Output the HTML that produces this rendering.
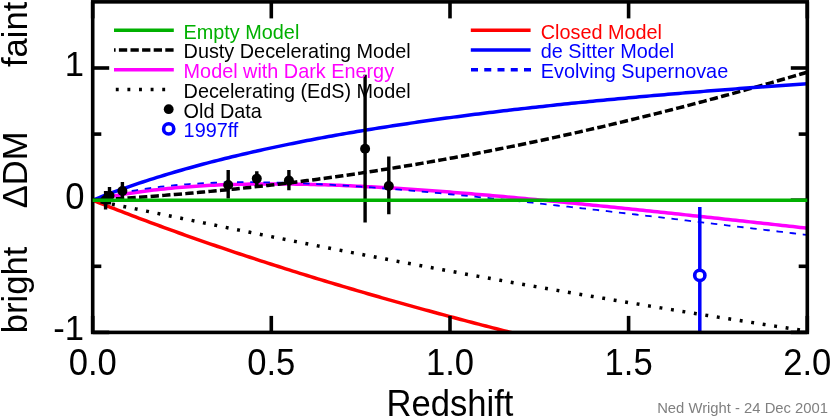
<!DOCTYPE html>
<html><head><meta charset="utf-8"><title>Supernova cosmology</title>
<style>
html,body{margin:0;padding:0;background:#fff;}
body{width:830px;height:417px;overflow:hidden;}
svg{display:block;will-change:transform;}
text{font-family:"Liberation Sans",sans-serif;}
</style></head><body>
<svg width="830" height="417" viewBox="0 0 830 417">
<rect width="830" height="417" fill="#fff"/>
<defs><clipPath id="pc"><rect x="92.7" y="1.85" width="714.5999999999999" height="330.54999999999995"/></clipPath></defs>
<g clip-path="url(#pc)" fill="none" stroke-linejoin="round">
<path d="M92.74 200.21 L96.27 201.63 L99.85 203.06 L103.42 204.47 L106.99 205.88 L110.56 207.29 L114.14 208.69 L117.71 210.08 L121.28 211.46 L124.86 212.84 L128.43 214.21 L132.00 215.57 L135.58 216.93 L139.15 218.28 L142.72 219.62 L146.30 220.96 L149.87 222.29 L153.44 223.62 L157.01 224.94 L160.59 226.25 L164.16 227.56 L167.73 228.86 L171.31 230.16 L174.88 231.45 L178.45 232.73 L182.02 234.01 L185.60 235.28 L189.17 236.55 L192.74 237.81 L196.32 239.07 L199.89 240.32 L203.46 241.57 L207.04 242.81 L210.61 244.04 L214.18 245.27 L217.75 246.50 L221.33 247.71 L224.90 248.93 L228.47 250.14 L232.05 251.34 L235.62 252.54 L239.19 253.73 L242.77 254.92 L246.34 256.10 L249.91 257.28 L253.49 258.46 L257.06 259.63 L260.63 260.79 L264.20 261.95 L267.78 263.11 L271.35 264.26 L274.92 265.40 L278.50 266.54 L282.07 267.68 L285.64 268.81 L289.21 269.94 L292.79 271.07 L296.36 272.18 L299.93 273.30 L303.51 274.41 L307.08 275.52 L310.65 276.62 L314.23 277.72 L317.80 278.81 L321.37 279.90 L324.94 280.98 L328.52 282.07 L332.09 283.14 L335.66 284.22 L339.24 285.29 L342.81 286.35 L346.38 287.41 L349.96 288.47 L353.53 289.52 L357.10 290.57 L360.67 291.62 L364.25 292.66 L367.82 293.70 L371.39 294.73 L374.97 295.76 L378.54 296.79 L382.11 297.81 L385.69 298.83 L389.26 299.85 L392.83 300.86 L396.40 301.87 L399.98 302.88 L403.55 303.88 L407.12 304.88 L410.70 305.87 L414.27 306.86 L417.84 307.85 L421.42 308.84 L424.99 309.82 L428.56 310.80 L432.13 311.77 L435.71 312.74 L439.28 313.71 L442.85 314.68 L446.43 315.64 L450.00 316.60 L453.57 317.55 L457.15 318.50 L460.72 319.45 L464.29 320.40 L467.86 321.34 L471.44 322.28 L475.01 323.22 L478.58 324.15 L482.16 325.08 L485.73 326.01 L489.30 326.93 L492.88 327.86 L496.45 328.77 L500.02 329.69 L503.59 330.60 L507.17 331.51 L510.74 332.42 L514.31 333.32 L517.89 334.22 L521.46 335.12 L525.03 336.02 L528.61 336.91 L532.18 337.80 L535.75 338.69 L539.32 339.57 L542.90 340.46 L546.47 341.34 L550.04 342.21 L553.62 343.09 L557.19 343.96 L560.76 344.83 L564.34 345.69 L567.91 346.55 L571.48 347.42 L575.05 348.27 L578.63 349.13 L582.20 349.98 L585.77 350.83 L589.35 351.68 L592.92 352.53 L596.49 353.37 L600.07 354.21 L603.64 355.05 L607.21 355.88 L610.78 356.72 L614.36 357.55 L617.93 358.38 L621.50 359.20 L625.08 360.03 L628.65 360.85 L632.22 361.67 L635.80 362.48 L639.37 363.30 L642.94 364.11 L646.51 364.92 L650.09 365.73 L653.66 366.53 L657.23 367.34 L660.81 368.14 L664.38 368.94 L667.95 369.73 L671.53 370.53 L675.10 371.32 L678.67 372.11 L682.25 372.89 L685.82 373.68 L689.39 374.46 L692.96 375.24 L696.54 376.02 L700.11 376.80 L703.68 377.58 L707.26 378.35 L710.83 379.12 L714.40 379.89 L717.97 380.65 L721.55 381.42 L725.12 382.18 L728.69 382.94 L732.27 383.70 L735.84 384.46 L739.41 385.21 L742.99 385.96 L746.56 386.71 L750.13 387.46 L753.71 388.21 L757.28 388.95 L760.85 389.70 L764.42 390.44 L768.00 391.18 L771.57 391.91 L775.14 392.65 L778.72 393.38 L782.29 394.11 L785.86 394.84 L789.43 395.57 L793.01 396.30 L796.58 397.02 L800.15 397.74 L803.73 398.46 L807.30 399.18" stroke="#ff0000" stroke-width="3.5"/>
<path d="M92.74 200.19 L96.27 199.42 L99.85 198.67 L103.42 197.95 L106.99 197.24 L110.56 196.56 L114.14 195.91 L117.71 195.27 L121.28 194.66 L124.86 194.07 L128.43 193.50 L132.00 192.96 L135.58 192.43 L139.15 191.92 L142.72 191.43 L146.30 190.96 L149.87 190.51 L153.44 190.08 L157.01 189.67 L160.59 189.27 L164.16 188.89 L167.73 188.53 L171.31 188.18 L174.88 187.85 L178.45 187.53 L182.02 187.23 L185.60 186.95 L189.17 186.68 L192.74 186.42 L196.32 186.18 L199.89 185.96 L203.46 185.74 L207.04 185.54 L210.61 185.35 L214.18 185.18 L217.75 185.02 L221.33 184.87 L224.90 184.73 L228.47 184.60 L232.05 184.49 L235.62 184.38 L239.19 184.29 L242.77 184.21 L246.34 184.14 L249.91 184.08 L253.49 184.03 L257.06 183.98 L260.63 183.95 L264.20 183.93 L267.78 183.92 L271.35 183.92 L274.92 183.92 L278.50 183.94 L282.07 183.96 L285.64 183.99 L289.21 184.03 L292.79 184.08 L296.36 184.14 L299.93 184.20 L303.51 184.27 L307.08 184.35 L310.65 184.43 L314.23 184.53 L317.80 184.63 L321.37 184.73 L324.94 184.85 L328.52 184.97 L332.09 185.09 L335.66 185.23 L339.24 185.36 L342.81 185.51 L346.38 185.66 L349.96 185.82 L353.53 185.98 L357.10 186.15 L360.67 186.32 L364.25 186.50 L367.82 186.68 L371.39 186.87 L374.97 187.06 L378.54 187.26 L382.11 187.47 L385.69 187.67 L389.26 187.89 L392.83 188.10 L396.40 188.32 L399.98 188.55 L403.55 188.78 L407.12 189.01 L410.70 189.25 L414.27 189.49 L417.84 189.74 L421.42 189.99 L424.99 190.24 L428.56 190.50 L432.13 190.76 L435.71 191.02 L439.28 191.29 L442.85 191.56 L446.43 191.84 L450.00 192.11 L453.57 192.39 L457.15 192.68 L460.72 192.96 L464.29 193.25 L467.86 193.54 L471.44 193.84 L475.01 194.14 L478.58 194.44 L482.16 194.74 L485.73 195.05 L489.30 195.35 L492.88 195.66 L496.45 195.98 L500.02 196.29 L503.59 196.61 L507.17 196.93 L510.74 197.25 L514.31 197.57 L517.89 197.90 L521.46 198.23 L525.03 198.56 L528.61 198.89 L532.18 199.22 L535.75 199.56 L539.32 199.90 L542.90 200.24 L546.47 200.58 L550.04 200.92 L553.62 201.27 L557.19 201.61 L560.76 201.96 L564.34 202.31 L567.91 202.66 L571.48 203.01 L575.05 203.37 L578.63 203.72 L582.20 204.08 L585.77 204.43 L589.35 204.79 L592.92 205.15 L596.49 205.52 L600.07 205.88 L603.64 206.24 L607.21 206.61 L610.78 206.97 L614.36 207.34 L617.93 207.71 L621.50 208.08 L625.08 208.45 L628.65 208.82 L632.22 209.19 L635.80 209.57 L639.37 209.94 L642.94 210.32 L646.51 210.69 L650.09 211.07 L653.66 211.45 L657.23 211.82 L660.81 212.20 L664.38 212.58 L667.95 212.96 L671.53 213.35 L675.10 213.73 L678.67 214.11 L682.25 214.49 L685.82 214.88 L689.39 215.26 L692.96 215.65 L696.54 216.03 L700.11 216.42 L703.68 216.81 L707.26 217.19 L710.83 217.58 L714.40 217.97 L717.97 218.36 L721.55 218.75 L725.12 219.14 L728.69 219.53 L732.27 219.92 L735.84 220.31 L739.41 220.70 L742.99 221.09 L746.56 221.48 L750.13 221.88 L753.71 222.27 L757.28 222.66 L760.85 223.06 L764.42 223.45 L768.00 223.84 L771.57 224.24 L775.14 224.63 L778.72 225.03 L782.29 225.42 L785.86 225.82 L789.43 226.21 L793.01 226.61 L796.58 227.00 L800.15 227.40 L803.73 227.79 L807.30 228.19" stroke="#ff00ff" stroke-width="3.5"/>
<path d="M92.74 200.19 L96.27 199.16 L99.85 198.16 L103.42 197.20 L106.99 196.29 L110.56 195.41 L114.14 194.58 L117.71 193.78 L121.28 193.02 L124.86 192.29 L128.43 191.60 L132.00 190.94 L135.58 190.31 L139.15 189.71 L142.72 189.14 L146.30 188.60 L149.87 188.09 L153.44 187.61 L157.01 187.15 L160.59 186.71 L164.16 186.31 L167.73 185.92 L171.31 185.56 L174.88 185.22 L178.45 184.90 L182.02 184.60 L185.60 184.32 L189.17 184.06 L192.74 183.82 L196.32 183.60 L199.89 183.40 L203.46 183.21 L207.04 183.05 L210.61 182.89 L214.18 182.76 L217.75 182.64 L221.33 182.53 L224.90 182.44 L228.47 182.36 L232.05 182.30 L235.62 182.25 L239.19 182.22 L242.77 182.19 L246.34 182.18 L249.91 182.18 L253.49 182.19 L257.06 182.22 L260.63 182.25 L264.20 182.29 L267.78 182.35 L271.35 182.42 L274.92 182.49 L278.50 182.58 L282.07 182.67 L285.64 182.77 L289.21 182.89 L292.79 183.01 L296.36 183.14 L299.93 183.27 L303.51 183.42 L307.08 183.57 L310.65 183.73 L314.23 183.90 L317.80 184.08 L321.37 184.26 L324.94 184.45 L328.52 184.64 L332.09 184.84 L335.66 185.05 L339.24 185.27 L342.81 185.49 L346.38 185.71 L349.96 185.94 L353.53 186.18 L357.10 186.42 L360.67 186.67 L364.25 186.92 L367.82 187.18 L371.39 187.44 L374.97 187.71 L378.54 187.98 L382.11 188.26 L385.69 188.54 L389.26 188.83 L392.83 189.11 L396.40 189.41 L399.98 189.70 L403.55 190.01 L407.12 190.31 L410.70 190.62 L414.27 190.93 L417.84 191.25 L421.42 191.56 L424.99 191.89 L428.56 192.21 L432.13 192.54 L435.71 192.87 L439.28 193.21 L442.85 193.54 L446.43 193.88 L450.00 194.23 L453.57 194.57 L457.15 194.92 L460.72 195.27 L464.29 195.62 L467.86 195.98 L471.44 196.34 L475.01 196.70 L478.58 197.06 L482.16 197.42 L485.73 197.79 L489.30 198.16 L492.88 198.53 L496.45 198.90 L500.02 199.28 L503.59 199.65 L507.17 200.03 L510.74 200.41 L514.31 200.79 L517.89 201.18 L521.46 201.56 L525.03 201.95 L528.61 202.34 L532.18 202.73 L535.75 203.12 L539.32 203.51 L542.90 203.90 L546.47 204.30 L550.04 204.69 L553.62 205.09 L557.19 205.49 L560.76 205.89 L564.34 206.29 L567.91 206.69 L571.48 207.10 L575.05 207.50 L578.63 207.91 L582.20 208.31 L585.77 208.72 L589.35 209.13 L592.92 209.54 L596.49 209.95 L600.07 210.36 L603.64 210.77 L607.21 211.18 L610.78 211.60 L614.36 212.01 L617.93 212.43 L621.50 212.84 L625.08 213.26 L628.65 213.68 L632.22 214.09 L635.80 214.51 L639.37 214.93 L642.94 215.35 L646.51 215.77 L650.09 216.19 L653.66 216.61 L657.23 217.03 L660.81 217.45 L664.38 217.87 L667.95 218.30 L671.53 218.72 L675.10 219.14 L678.67 219.57 L682.25 219.99 L685.82 220.42 L689.39 220.84 L692.96 221.27 L696.54 221.69 L700.11 222.12 L703.68 222.54 L707.26 222.97 L710.83 223.39 L714.40 223.82 L717.97 224.25 L721.55 224.68 L725.12 225.10 L728.69 225.53 L732.27 225.96 L735.84 226.38 L739.41 226.81 L742.99 227.24 L746.56 227.67 L750.13 228.10 L753.71 228.52 L757.28 228.95 L760.85 229.38 L764.42 229.81 L768.00 230.24 L771.57 230.67 L775.14 231.09 L778.72 231.52 L782.29 231.95 L785.86 232.38 L789.43 232.81 L793.01 233.24 L796.58 233.66 L800.15 234.09 L803.73 234.52 L807.30 234.95" stroke="#0000ff" stroke-width="1.8" stroke-dasharray="6.5 6.72" stroke-dashoffset="-0.4"/>
<path d="M92.74 200.21 L96.27 200.92 L99.85 201.64 L103.42 202.36 L106.99 203.08 L110.56 203.81 L114.14 204.53 L117.71 205.26 L121.28 205.99 L124.86 206.72 L128.43 207.45 L132.00 208.18 L135.58 208.91 L139.15 209.64 L142.72 210.37 L146.30 211.11 L149.87 211.84 L153.44 212.57 L157.01 213.31 L160.59 214.04 L164.16 214.77 L167.73 215.51 L171.31 216.24 L174.88 216.98 L178.45 217.71 L182.02 218.44 L185.60 219.18 L189.17 219.91 L192.74 220.64 L196.32 221.38 L199.89 222.11 L203.46 222.84 L207.04 223.57 L210.61 224.30 L214.18 225.03 L217.75 225.76 L221.33 226.49 L224.90 227.22 L228.47 227.95 L232.05 228.68 L235.62 229.41 L239.19 230.13 L242.77 230.86 L246.34 231.58 L249.91 232.31 L253.49 233.03 L257.06 233.75 L260.63 234.47 L264.20 235.19 L267.78 235.91 L271.35 236.63 L274.92 237.35 L278.50 238.07 L282.07 238.78 L285.64 239.50 L289.21 240.21 L292.79 240.92 L296.36 241.63 L299.93 242.34 L303.51 243.05 L307.08 243.76 L310.65 244.47 L314.23 245.18 L317.80 245.88 L321.37 246.59 L324.94 247.29 L328.52 247.99 L332.09 248.69 L335.66 249.39 L339.24 250.09 L342.81 250.79 L346.38 251.48 L349.96 252.18 L353.53 252.87 L357.10 253.56 L360.67 254.26 L364.25 254.95 L367.82 255.64 L371.39 256.32 L374.97 257.01 L378.54 257.70 L382.11 258.38 L385.69 259.06 L389.26 259.74 L392.83 260.42 L396.40 261.10 L399.98 261.78 L403.55 262.46 L407.12 263.13 L410.70 263.81 L414.27 264.48 L417.84 265.15 L421.42 265.82 L424.99 266.49 L428.56 267.16 L432.13 267.83 L435.71 268.49 L439.28 269.16 L442.85 269.82 L446.43 270.48 L450.00 271.14 L453.57 271.80 L457.15 272.46 L460.72 273.11 L464.29 273.77 L467.86 274.42 L471.44 275.07 L475.01 275.73 L478.58 276.38 L482.16 277.03 L485.73 277.67 L489.30 278.32 L492.88 278.96 L496.45 279.61 L500.02 280.25 L503.59 280.89 L507.17 281.53 L510.74 282.17 L514.31 282.81 L517.89 283.44 L521.46 284.08 L525.03 284.71 L528.61 285.35 L532.18 285.98 L535.75 286.61 L539.32 287.24 L542.90 287.86 L546.47 288.49 L550.04 289.11 L553.62 289.74 L557.19 290.36 L560.76 290.98 L564.34 291.60 L567.91 292.22 L571.48 292.84 L575.05 293.45 L578.63 294.07 L582.20 294.68 L585.77 295.30 L589.35 295.91 L592.92 296.52 L596.49 297.13 L600.07 297.74 L603.64 298.34 L607.21 298.95 L610.78 299.55 L614.36 300.15 L617.93 300.76 L621.50 301.36 L625.08 301.96 L628.65 302.56 L632.22 303.15 L635.80 303.75 L639.37 304.34 L642.94 304.94 L646.51 305.53 L650.09 306.12 L653.66 306.71 L657.23 307.30 L660.81 307.89 L664.38 308.47 L667.95 309.06 L671.53 309.64 L675.10 310.23 L678.67 310.81 L682.25 311.39 L685.82 311.97 L689.39 312.55 L692.96 313.13 L696.54 313.70 L700.11 314.28 L703.68 314.85 L707.26 315.43 L710.83 316.00 L714.40 316.57 L717.97 317.14 L721.55 317.71 L725.12 318.27 L728.69 318.84 L732.27 319.41 L735.84 319.97 L739.41 320.53 L742.99 321.10 L746.56 321.66 L750.13 322.22 L753.71 322.78 L757.28 323.33 L760.85 323.89 L764.42 324.45 L768.00 325.00 L771.57 325.55 L775.14 326.11 L778.72 326.66 L782.29 327.21 L785.86 327.76 L789.43 328.30 L793.01 328.85 L796.58 329.40 L800.15 329.94 L803.73 330.49 L807.30 331.03" stroke="#000" stroke-width="3.5" stroke-dasharray="2.9 8.71" stroke-dashoffset="3.6"/>
<path d="M92.74 200.20 L96.27 199.99 L99.85 199.78 L103.42 199.56 L106.99 199.35 L110.56 199.12 L114.14 198.90 L117.71 198.67 L121.28 198.44 L124.86 198.20 L128.43 197.97 L132.00 197.72 L135.58 197.48 L139.15 197.23 L142.72 196.97 L146.30 196.72 L149.87 196.46 L153.44 196.19 L157.01 195.92 L160.59 195.65 L164.16 195.37 L167.73 195.09 L171.31 194.80 L174.88 194.51 L178.45 194.22 L182.02 193.92 L185.60 193.62 L189.17 193.31 L192.74 193.00 L196.32 192.68 L199.89 192.36 L203.46 192.03 L207.04 191.70 L210.61 191.37 L214.18 191.03 L217.75 190.69 L221.33 190.34 L224.90 189.99 L228.47 189.63 L232.05 189.27 L235.62 188.90 L239.19 188.53 L242.77 188.16 L246.34 187.78 L249.91 187.39 L253.49 187.00 L257.06 186.61 L260.63 186.21 L264.20 185.81 L267.78 185.40 L271.35 184.99 L274.92 184.57 L278.50 184.15 L282.07 183.72 L285.64 183.29 L289.21 182.85 L292.79 182.41 L296.36 181.96 L299.93 181.51 L303.51 181.06 L307.08 180.60 L310.65 180.13 L314.23 179.66 L317.80 179.19 L321.37 178.71 L324.94 178.23 L328.52 177.74 L332.09 177.24 L335.66 176.75 L339.24 176.24 L342.81 175.74 L346.38 175.22 L349.96 174.71 L353.53 174.18 L357.10 173.66 L360.67 173.13 L364.25 172.59 L367.82 172.05 L371.39 171.51 L374.97 170.96 L378.54 170.40 L382.11 169.84 L385.69 169.28 L389.26 168.71 L392.83 168.14 L396.40 167.56 L399.98 166.98 L403.55 166.39 L407.12 165.80 L410.70 165.20 L414.27 164.60 L417.84 164.00 L421.42 163.38 L424.99 162.77 L428.56 162.15 L432.13 161.53 L435.71 160.90 L439.28 160.26 L442.85 159.63 L446.43 158.98 L450.00 158.34 L453.57 157.69 L457.15 157.03 L460.72 156.37 L464.29 155.71 L467.86 155.04 L471.44 154.36 L475.01 153.68 L478.58 153.00 L482.16 152.31 L485.73 151.62 L489.30 150.93 L492.88 150.22 L496.45 149.52 L500.02 148.81 L503.59 148.10 L507.17 147.38 L510.74 146.65 L514.31 145.93 L517.89 145.20 L521.46 144.46 L525.03 143.72 L528.61 142.97 L532.18 142.22 L535.75 141.47 L539.32 140.71 L542.90 139.95 L546.47 139.18 L550.04 138.41 L553.62 137.64 L557.19 136.86 L560.76 136.08 L564.34 135.29 L567.91 134.50 L571.48 133.70 L575.05 132.90 L578.63 132.09 L582.20 131.28 L585.77 130.47 L589.35 129.65 L592.92 128.83 L596.49 128.01 L600.07 127.18 L603.64 126.34 L607.21 125.50 L610.78 124.66 L614.36 123.81 L617.93 122.96 L621.50 122.11 L625.08 121.25 L628.65 120.38 L632.22 119.52 L635.80 118.65 L639.37 117.77 L642.94 116.89 L646.51 116.01 L650.09 115.12 L653.66 114.23 L657.23 113.33 L660.81 112.43 L664.38 111.53 L667.95 110.62 L671.53 109.71 L675.10 108.79 L678.67 107.87 L682.25 106.95 L685.82 106.02 L689.39 105.09 L692.96 104.15 L696.54 103.21 L700.11 102.27 L703.68 101.32 L707.26 100.37 L710.83 99.41 L714.40 98.45 L717.97 97.49 L721.55 96.52 L725.12 95.55 L728.69 94.57 L732.27 93.59 L735.84 92.61 L739.41 91.63 L742.99 90.63 L746.56 89.64 L750.13 88.64 L753.71 87.64 L757.28 86.63 L760.85 85.62 L764.42 84.61 L768.00 83.59 L771.57 82.57 L775.14 81.55 L778.72 80.52 L782.29 79.49 L785.86 78.45 L789.43 77.41 L793.01 76.37 L796.58 75.32 L800.15 74.27 L803.73 73.21 L807.30 72.16" stroke="#000" stroke-width="3.5" stroke-dasharray="8.3 3.3"/>
<path d="M92.74 200.19 L96.27 198.78 L99.85 197.37 L103.42 195.99 L106.99 194.63 L110.56 193.28 L114.14 191.96 L117.71 190.65 L121.28 189.37 L124.86 188.10 L128.43 186.85 L132.00 185.61 L135.58 184.39 L139.15 183.19 L142.72 182.01 L146.30 180.84 L149.87 179.69 L153.44 178.55 L157.01 177.42 L160.59 176.32 L164.16 175.22 L167.73 174.14 L171.31 173.07 L174.88 172.02 L178.45 170.98 L182.02 169.95 L185.60 168.94 L189.17 167.94 L192.74 166.95 L196.32 165.97 L199.89 165.00 L203.46 164.05 L207.04 163.11 L210.61 162.18 L214.18 161.25 L217.75 160.34 L221.33 159.44 L224.90 158.56 L228.47 157.68 L232.05 156.81 L235.62 155.95 L239.19 155.10 L242.77 154.26 L246.34 153.43 L249.91 152.61 L253.49 151.79 L257.06 150.99 L260.63 150.20 L264.20 149.41 L267.78 148.63 L271.35 147.86 L274.92 147.10 L278.50 146.35 L282.07 145.60 L285.64 144.86 L289.21 144.13 L292.79 143.41 L296.36 142.70 L299.93 141.99 L303.51 141.29 L307.08 140.59 L310.65 139.91 L314.23 139.23 L317.80 138.55 L321.37 137.89 L324.94 137.23 L328.52 136.57 L332.09 135.93 L335.66 135.29 L339.24 134.65 L342.81 134.02 L346.38 133.40 L349.96 132.78 L353.53 132.17 L357.10 131.57 L360.67 130.97 L364.25 130.38 L367.82 129.79 L371.39 129.21 L374.97 128.63 L378.54 128.06 L382.11 127.49 L385.69 126.93 L389.26 126.37 L392.83 125.82 L396.40 125.27 L399.98 124.73 L403.55 124.19 L407.12 123.66 L410.70 123.13 L414.27 122.61 L417.84 122.09 L421.42 121.58 L424.99 121.07 L428.56 120.56 L432.13 120.06 L435.71 119.56 L439.28 119.07 L442.85 118.58 L446.43 118.10 L450.00 117.62 L453.57 117.14 L457.15 116.67 L460.72 116.20 L464.29 115.73 L467.86 115.27 L471.44 114.81 L475.01 114.36 L478.58 113.91 L482.16 113.47 L485.73 113.02 L489.30 112.58 L492.88 112.15 L496.45 111.72 L500.02 111.29 L503.59 110.86 L507.17 110.44 L510.74 110.02 L514.31 109.60 L517.89 109.19 L521.46 108.78 L525.03 108.38 L528.61 107.97 L532.18 107.57 L535.75 107.18 L539.32 106.78 L542.90 106.39 L546.47 106.00 L550.04 105.62 L553.62 105.23 L557.19 104.85 L560.76 104.48 L564.34 104.10 L567.91 103.73 L571.48 103.36 L575.05 103.00 L578.63 102.63 L582.20 102.27 L585.77 101.92 L589.35 101.56 L592.92 101.21 L596.49 100.86 L600.07 100.51 L603.64 100.16 L607.21 99.82 L610.78 99.48 L614.36 99.14 L617.93 98.80 L621.50 98.47 L625.08 98.14 L628.65 97.81 L632.22 97.48 L635.80 97.16 L639.37 96.84 L642.94 96.52 L646.51 96.20 L650.09 95.88 L653.66 95.57 L657.23 95.26 L660.81 94.95 L664.38 94.64 L667.95 94.33 L671.53 94.03 L675.10 93.73 L678.67 93.43 L682.25 93.13 L685.82 92.83 L689.39 92.54 L692.96 92.25 L696.54 91.96 L700.11 91.67 L703.68 91.38 L707.26 91.10 L710.83 90.82 L714.40 90.53 L717.97 90.25 L721.55 89.98 L725.12 89.70 L728.69 89.43 L732.27 89.16 L735.84 88.88 L739.41 88.62 L742.99 88.35 L746.56 88.08 L750.13 87.82 L753.71 87.56 L757.28 87.30 L760.85 87.04 L764.42 86.78 L768.00 86.52 L771.57 86.27 L775.14 86.01 L778.72 85.76 L782.29 85.51 L785.86 85.26 L789.43 85.02 L793.01 84.77 L796.58 84.53 L800.15 84.28 L803.73 84.04 L807.30 83.80" stroke="#0000ff" stroke-width="3.5"/>
<line x1="105.6" y1="191.0" x2="105.6" y2="209.4" stroke="#000" stroke-width="3.4"/><circle cx="105.6" cy="200.0" r="5" fill="#000"/>
<line x1="109.5" y1="187.1" x2="109.5" y2="204.5" stroke="#000" stroke-width="3.4"/><circle cx="109.5" cy="195.8" r="5" fill="#000"/>
<line x1="122.4" y1="182.0" x2="122.4" y2="200.0" stroke="#000" stroke-width="3.4"/><circle cx="122.4" cy="191.0" r="5" fill="#000"/>
<line x1="228.2" y1="169.9" x2="228.2" y2="198.5" stroke="#000" stroke-width="3.4"/><circle cx="228.2" cy="185.0" r="5" fill="#000"/>
<line x1="256.8" y1="171.2" x2="256.8" y2="185.8" stroke="#000" stroke-width="3.4"/><circle cx="256.8" cy="178.6" r="5" fill="#000"/>
<line x1="288.9" y1="169.9" x2="288.9" y2="190.3" stroke="#000" stroke-width="3.4"/><circle cx="288.9" cy="180.5" r="5" fill="#000"/>
<line x1="365.1" y1="74.8" x2="365.1" y2="222.6" stroke="#000" stroke-width="3.4"/><circle cx="365.1" cy="148.8" r="5" fill="#000"/>
<line x1="388.8" y1="156.5" x2="388.8" y2="214.2" stroke="#000" stroke-width="3.4"/><circle cx="388.8" cy="186.0" r="5" fill="#000"/>

<line x1="699.8" y1="206.9" x2="699.8" y2="332.4" stroke="#0000ff" stroke-width="3.5"/>
<circle cx="699.8" cy="275.4" r="5.1" fill="#fff" stroke="#0000ff" stroke-width="3.6"/>
</g>
<g stroke="#000" stroke-width="3.6" fill="none">
<rect x="92.7" y="1.85" width="714.5999999999999" height="330.54999999999995"/>
<line x1="271.3" y1="332.4" x2="271.3" y2="315.9"/><line x1="271.3" y1="1.9" x2="271.3" y2="18.4"/><line x1="450.0" y1="332.4" x2="450.0" y2="315.9"/><line x1="450.0" y1="1.9" x2="450.0" y2="18.4"/><line x1="628.6" y1="332.4" x2="628.6" y2="315.9"/><line x1="628.6" y1="1.9" x2="628.6" y2="18.4"/><line x1="92.7" y1="332.4" x2="92.7" y2="315.9"/><line x1="92.7" y1="1.9" x2="92.7" y2="18.4"/><line x1="807.3" y1="332.4" x2="807.3" y2="315.9"/><line x1="807.3" y1="1.9" x2="807.3" y2="18.4"/><line x1="92.7" y1="332.4" x2="109.2" y2="332.4"/><line x1="807.3" y1="332.4" x2="790.8" y2="332.4"/><line x1="92.7" y1="266.3" x2="101.3" y2="266.3"/><line x1="807.3" y1="266.3" x2="798.7" y2="266.3"/><line x1="92.7" y1="200.2" x2="109.2" y2="200.2"/><line x1="807.3" y1="200.2" x2="790.8" y2="200.2"/><line x1="92.7" y1="134.1" x2="101.3" y2="134.1"/><line x1="807.3" y1="134.1" x2="798.7" y2="134.1"/><line x1="92.7" y1="68.0" x2="109.2" y2="68.0"/><line x1="807.3" y1="68.0" x2="790.8" y2="68.0"/>
</g>
<line x1="92.7" y1="200.2" x2="807.3" y2="200.2" stroke="#00b000" stroke-width="3.4"/>
<!-- legend left -->
<g stroke-width="3.5" fill="none">
<line x1="114" y1="30.2" x2="173.8" y2="30.2" stroke="#00b000"/>
<line x1="114" y1="50.0" x2="173.8" y2="50.0" stroke="#000" stroke-dasharray="8.3 3.3" stroke-dashoffset="6.7"/>
<line x1="114" y1="69.7" x2="173.8" y2="69.7" stroke="#ff00ff"/>
<line x1="114" y1="89.5" x2="173.8" y2="89.5" stroke="#000" stroke-dasharray="2.9 8.71" stroke-dashoffset="-1.8"/>
<line x1="470.8" y1="30.2" x2="530.6" y2="30.2" stroke="#ff0000"/>
<line x1="470.8" y1="50.0" x2="530.6" y2="50.0" stroke="#0000ff"/>
<line x1="471" y1="69.7" x2="531.3" y2="69.7" stroke="#0000ff" stroke-dasharray="7 6.25"/>
</g>
<circle cx="168.7" cy="109.2" r="4.9" fill="#000"/>
<circle cx="168.7" cy="128.9" r="5.1" fill="#fff" stroke="#0000ff" stroke-width="3.6"/>
<g font-size="19.85">
<text transform="translate(183.6,38.5) scale(1,1.030)" fill="#00b000" text-anchor="start">Empty Model</text>
<text transform="translate(183.6,58.2) scale(1,1.030)" fill="#000" text-anchor="start">Dusty Decelerating Model</text>
<text transform="translate(183.6,78.0) scale(1,1.030)" fill="#ff00ff" text-anchor="start">Model with Dark Energy</text>
<text transform="translate(183.6,97.8) scale(1,1.030)" fill="#000" text-anchor="start">Decelerating (EdS) Model</text>
<text transform="translate(183.6,117.5) scale(1,1.030)" fill="#000" text-anchor="start">Old Data</text>
<text transform="translate(183.6,137.2) scale(1,1.030)" fill="#0000ff" text-anchor="start">1997ff</text>
<text transform="translate(540.8,38.5) scale(1,1.030)" fill="#ff0000" text-anchor="start">Closed Model</text>
<text transform="translate(540.8,58.2) scale(1,1.030)" fill="#0000ff" text-anchor="start">de Sitter Model</text>
<text transform="translate(540.8,78.0) scale(1,1.030)" fill="#0000ff" text-anchor="start">Evolving Supernovae</text>
</g>
<!-- axis labels -->
<g font-size="34.6" fill="#000">
<text transform="translate(92.7,374.7) scale(1,1.070)" fill="#000" text-anchor="middle">0.0</text>
<text transform="translate(271.3,374.7) scale(1,1.070)" fill="#000" text-anchor="middle">0.5</text>
<text transform="translate(450.0,374.7) scale(1,1.070)" fill="#000" text-anchor="middle">1.0</text>
<text transform="translate(628.6,374.7) scale(1,1.070)" fill="#000" text-anchor="middle">1.5</text>
<text transform="translate(807.3,374.7) scale(1,1.070)" fill="#000" text-anchor="middle">2.0</text>
<text transform="translate(450.0,415.6) scale(1,1.070)" fill="#000" text-anchor="middle">Redshift</text>
<text transform="translate(84.0,75.8) scale(1,1.000)" fill="#000" text-anchor="end">1</text>
<text transform="translate(84.4,209.2) scale(1,1.070)" fill="#000" text-anchor="end">0</text>
<text transform="translate(84.0,340.2) scale(1,1.000)" fill="#000" text-anchor="end">-1</text>
<text transform="translate(26.6,34.3) scale(1.015,1) rotate(-90)" text-anchor="middle">faint</text>
<text transform="translate(26.6,169.8) scale(1.015,1) rotate(-90)" text-anchor="middle">&#916;DM</text>
<text transform="translate(26.6,289.9) scale(1.015,1) rotate(-90)" text-anchor="middle">bright</text>
</g>
<g font-size="14.8"><text transform="translate(828.0,413.3) scale(1,1.000)" fill="#808080" text-anchor="end">Ned Wright - 24 Dec 2001</text></g>
</svg>
</body></html>
